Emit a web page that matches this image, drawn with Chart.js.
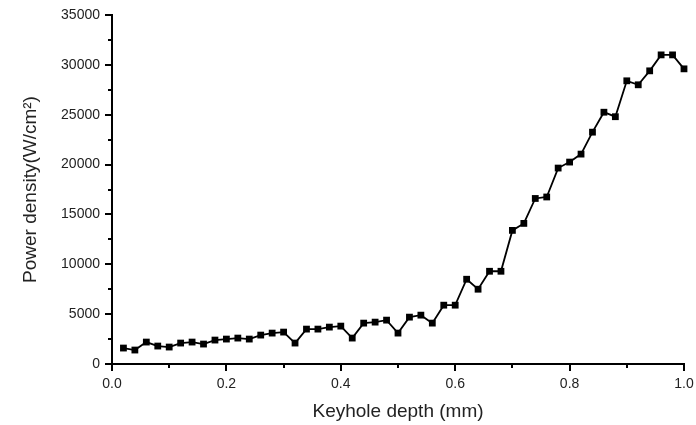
<!DOCTYPE html>
<html>
<head>
<meta charset="utf-8">
<script src="https://cdn.jsdelivr.net/npm/chart.js@4.4.1/dist/chart.umd.min.js"></script>
<style>
    body { margin: 0; background: #ffffff; }
</style>
</head>
<body>
<canvas id="myChart" width="696" height="425"></canvas>
<script>

var depth = [0.02, 0.04, 0.06, 0.08, 0.10, 0.12, 0.14, 0.16, 0.18, 0.20,
             0.22, 0.24, 0.26, 0.28, 0.30, 0.32, 0.34, 0.36, 0.38, 0.40,
             0.42, 0.44, 0.46, 0.48, 0.50, 0.52, 0.54, 0.56, 0.58, 0.60,
             0.62, 0.64, 0.66, 0.68, 0.70, 0.72, 0.74, 0.76, 0.78, 0.80,
             0.82, 0.84, 0.86, 0.88, 0.90, 0.92, 0.94, 0.96, 0.98, 1.00];

var powerDensity = [1600, 1400, 2200, 1800, 1700, 2100, 2200, 2000, 2400, 2500,
                    2600, 2500, 2900, 3100, 3200, 2100, 3500, 3500, 3700, 3800,
                    2600, 4100, 4200, 4400, 3100, 4700, 4900, 4100, 5900, 5900,
                    8500, 7500, 9300, 9300, 13400, 14100, 16600, 16750, 19650, 20250,
                    21050, 23250, 25250, 24800, 28400, 28000, 29400, 31000, 31000, 29600];

var xTicks = [0, 0.1, 0.2, 0.3, 0.4, 0.5, 0.6, 0.7, 0.8, 0.9, 1.0];
var yTicks = [0, 2500, 5000, 7500, 10000, 12500, 15000, 17500, 20000, 22500,
              25000, 27500, 30000, 32500, 35000];

var xTitle = "Keyhole depth (mm)";
var yTitle = "Power density(W/cm\u00b2)";

function makePoints() {
    var pts = [];
    for (var i = 0; i < depth.length; i++) {
        pts.push({x: depth[i], y: powerDensity[i]});
    }
    return pts;
}

// draws outward tick marks, long for labelled ones, short for the others
var tickMarks = {
    id: 'tickMarks',
    afterDraw: function (chart) {
        var ctx = chart.ctx;
        var xs = chart.scales.x;
        var ys = chart.scales.y;
        ctx.save();
        ctx.strokeStyle = '#000';
        ctx.lineWidth = 2;
        ctx.beginPath();
        for (var i = 0; i < yTicks.length; i++) {
            var py = Math.round(ys.getPixelForValue(yTicks[i]));
            var len = (yTicks[i] % 5000 === 0) ? 7 : 4;
            ctx.moveTo(ys.right, py);
            ctx.lineTo(ys.right - len, py);
        }
        for (var j = 0; j < xTicks.length; j++) {
            var px = Math.round(xs.getPixelForValue(xTicks[j]));
            var lenX = (j % 2 === 0) ? 7 : 4;
            ctx.moveTo(px, xs.top);
            ctx.lineTo(px, xs.top + lenX);
        }
        ctx.stroke();
        ctx.restore();
    }
};

function makeChart() {
    var ctx = document.getElementById("myChart");
    var myChart = new Chart(ctx, {
        type: 'line',
        data: {
            datasets: [{
                label: 'Power density',
                data: makePoints(),
                borderColor: '#000',
                backgroundColor: '#000',
                borderWidth: 1.8,
                pointStyle: 'rect',
                pointRadius: 4.8,
                pointBorderWidth: 0,
                tension: 0,
                clip: false
            }]
        },
        options: {
            responsive: false,
            animation: false,
            layout: {
                padding: {top: 15, right: 12, left: 0, bottom: 0}
            },
            plugins: {
                legend: {display: false},
                tooltip: {enabled: false}
            },
            scales: {
                x: {
                    type: 'linear',
                    min: 0,
                    max: 1,
                    afterBuildTicks: function (scale) {
                        scale.ticks = xTicks.map(function (v) { return {value: v}; });
                    },
                    afterFit: function (scale) {
                        scale.height = 61;
                        scale.paddingRight = 0;
                        scale.paddingLeft = 0;
                    },
                    grid: {drawOnChartArea: false, tickLength: 7, tickColor: 'rgba(0,0,0,0)'},
                    border: {color: '#000', width: 2},
                    ticks: {
                        color: '#222',
                        padding: 5,
                        maxRotation: 0,
                        autoSkip: false,
                        font: {family: 'Liberation Sans', size: 14},
                        callback: function (v, idx) {
                            return idx % 2 === 0 ? v.toFixed(1) : '';
                        }
                    },
                    title: {
                        display: true,
                        text: xTitle,
                        color: '#222',
                        padding: {top: 0, bottom: 2},
                        font: {family: 'Liberation Sans', size: 19}
                    }
                },
                y: {
                    min: 0,
                    max: 35000,
                    afterBuildTicks: function (scale) {
                        scale.ticks = yTicks.map(function (v) { return {value: v}; });
                    },
                    afterFit: function (scale) { scale.width = 112; },
                    grid: {drawOnChartArea: false, tickLength: 7, tickColor: 'rgba(0,0,0,0)'},
                    border: {color: '#000', width: 2},
                    ticks: {
                        color: '#222',
                        padding: 5,
                        autoSkip: false,
                        font: {family: 'Liberation Sans', size: 14},
                        callback: function (v) {
                            return v % 5000 === 0 ? String(v) : '';
                        }
                    },
                    title: {
                        display: true,
                        text: yTitle,
                        color: '#222',
                        padding: {top: 19, bottom: 0},
                        font: {family: 'Liberation Sans', size: 19}
                    }
                }
            }
        },
        plugins: [tickMarks]
    });
}

makeChart();
</script>
</body>
</html>
